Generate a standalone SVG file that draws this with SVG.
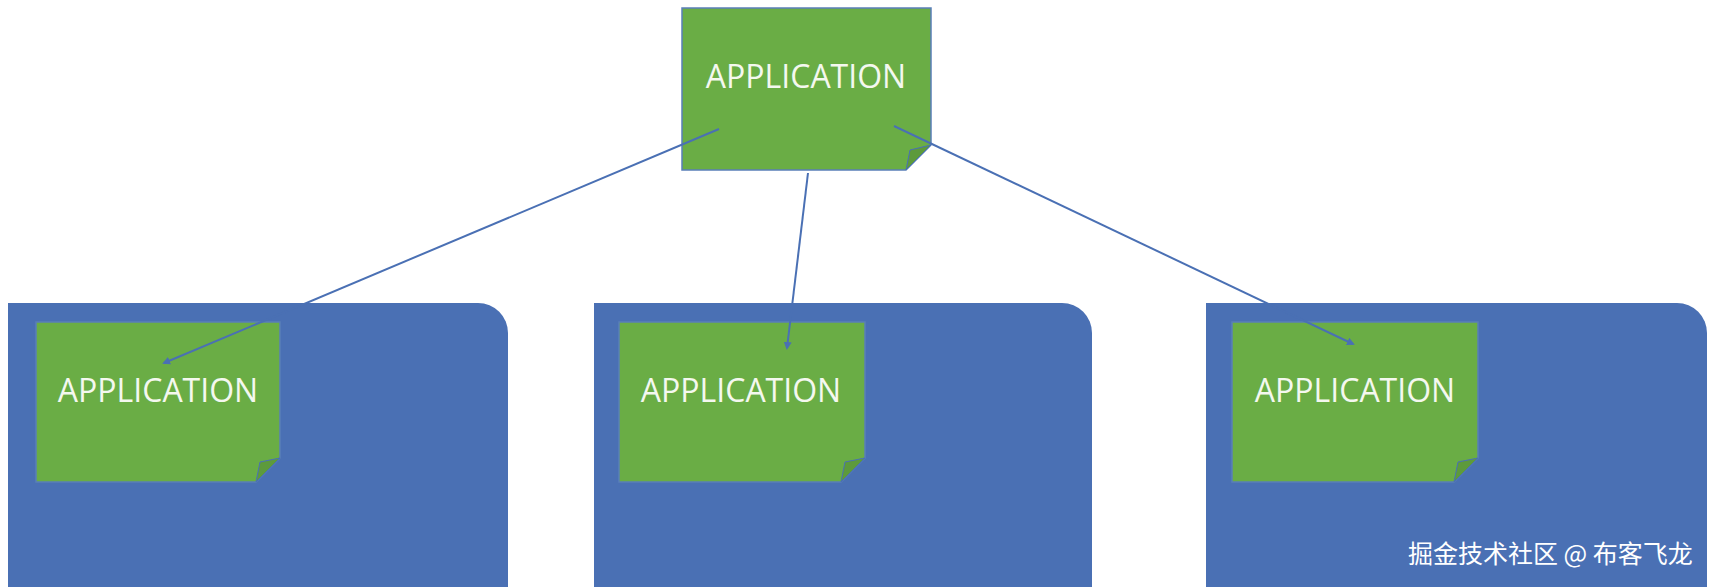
<svg xmlns="http://www.w3.org/2000/svg" width="1713" height="587" viewBox="0 0 1713 587">
<style>
.blue{fill:#4a70b4}
.note{fill:#6aad45;stroke:#5a7fb8;stroke-width:1.5}
.fold{fill:#5d9a3c;stroke:#4a70b4;stroke-width:1}
.t{font-family:"Open Sans","Liberation Sans",sans-serif;font-size:32px;fill:#f4f8ef;text-anchor:middle}
.c{stroke:#4a70b4;stroke-width:2;fill:none;marker-end:url(#a)}
.w{font-family:"Noto Sans CJK SC","Noto Sans",sans-serif;font-size:25px;fill:#ffffff}
</style>
<defs><marker id="a" markerWidth="8" markerHeight="8" refX="6" refY="4" orient="auto" markerUnits="userSpaceOnUse"><path d="M0,0L8,4L0,8z" fill="#4a70b4"/></marker></defs>
<rect width="1713" height="587" fill="#fff"/>
<g id="group1"><path class="blue" d="M8,303H478A30,30 0 0 1 508,333V587H8Z"/></g>
<g id="group2"><path class="blue" d="M594,303H1062A30,30 0 0 1 1092,333V587H594Z"/></g>
<g id="group3"><path class="blue" d="M1206,303H1677A30,30 0 0 1 1707,333V587H1206Z"/></g>
<g id="app-top"><path class="note" d="M682,8H931V145L906,170H682Z"/><path class="fold" d="M931,145L906,170L910,150Z"/><text class="t" x="806" y="88">APPLICATION</text></g>
<g id="app-left"><path class="note" d="M36,322H280V458L256,482H36Z"/><path class="fold" d="M280,458L256,482L260,462Z"/><text class="t" x="158" y="402">APPLICATION</text></g>
<g id="app-mid"><path class="note" d="M619,322H865V458L841,482H619Z"/><path class="fold" d="M865,458L841,482L845,462Z"/><text class="t" x="741" y="402">APPLICATION</text></g>
<g id="app-right"><path class="note" d="M1232,322H1478V458L1454,482H1232Z"/><path class="fold" d="M1478,458L1454,482L1458,462Z"/><text class="t" x="1355" y="402">APPLICATION</text></g>
<g id="connectors">
<path class="c" d="M719,129L164,363"/>
<path class="c" d="M808,173L787,348"/>
<path class="c" d="M894,126L1353,344"/>
</g>
<text class="w" x="1408" y="563">掘金技术社区 @ 布客飞龙</text>
</svg>
